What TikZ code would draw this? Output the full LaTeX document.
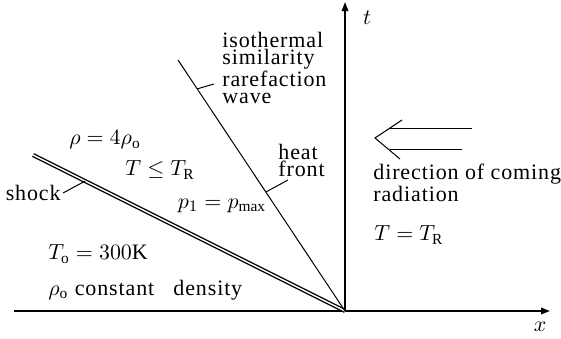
\documentclass[tikz,border=0pt]{standalone}
\usepackage{fontspec}
\setmainfont{Liberation Serif}
\usetikzlibrary{positioning, calc, arrows.meta}
\tikzset{
  > = {Triangle[length = 4.5pt, width = 3.2pt]},
  axis/.style = {->, line width = 0.9pt},
  front/.style = {line width = 0.5pt},
  shockline/.style = {double, double distance = 0.7pt, line width = 0.7pt},
  pointer/.style = {line width = 0.5pt},
  txt/.style = {inner sep = 1pt,
    font = \fontsize{11}{8.4}\selectfont\addfontfeature{LetterSpace = 4}},
  stack/.style = {txt, align = left},
  radiation/.style = {line width = 0.5pt}
}

\begin{document}
\begin{tikzpicture}[x = 0.5pt, y = -0.5pt]
\useasboundingbox (0,0) rectangle (561,338);

%% Axes
\coordinate (o) at (345,311);
\coordinate (xstart) at (14,311);
\coordinate (xend) at (550,311);
\coordinate (tend) at (345,2);
\draw [axis] (xstart) -- (xend);
\draw [axis] (o) -- (tend);
\node [txt] (xlab) at (540,327) {$x$};
\node [txt] (tlab) at (367,18) {$t$};

%% Fronts
\coordinate (shock0) at (33,155);
\coordinate (rare0) at (178,60);
\draw [shockline] (shock0) -- (o);
\draw [front] (rare0) -- (o);

%% Labels with pointers
\node [stack, anchor = north west] (rare) at (220,30)
  {isothermal\\similarity\\rarefaction\\wave};
\coordinate (rarept) at ($ (rare0) !0.115! (o) $);
\coordinate (rareend) at (214,84);
\draw [pointer] (rarept) -- (rareend);

\node [stack, anchor = north west] (heat) at (276,142) {heat\\front};
\coordinate (heatpt) at ($ (rare0) !0.526! (o) $);
\coordinate (heatend) at (288,180);
\draw [pointer] (heatpt) -- (heatend);

\node [txt, anchor = east] (shock) at (63,193) {shock};
\coordinate (shockpt) at ($ (shock0) !0.167! (o) $);
\draw [pointer] (shock.east) -- (shockpt);

%% Regions
\node [txt] (rho) at (105,140) {$\rho=4\rho_{\mathrm{o}}$};
\node [txt] (tle) at (160,170) {$T\leq T_{\mathrm{R}}$};
\node [txt] (pmax) at (222,206) {$p_1=p_{\max}$};
\node [txt, anchor = west] (tzero) at (46,254) {$T_{\mathrm{o}}=300$K};
\node [txt, anchor = west] (rhozero) at (46,290) {$\rho_{\mathrm{o}}$ constant\ \ \ density};
\node [txt, anchor = west] (teq) at (372,235) {$T=T_{\mathrm{R}}$};

%% Radiation
\node [stack, anchor = north west] (dir) at (371,162) {direction of coming\\radiation};
\coordinate (tip) at (375,138);
\coordinate (barbup) at (402,120);
\coordinate (barbdn) at (400,159);
\coordinate (up0) at (390,128);
\coordinate (up1) at (472,128);
\coordinate (dn0) at (390,149);
\coordinate (dn1) at (462,149);
\draw [radiation] (barbup) -- (tip) -- (barbdn);
\draw [radiation] (up0) -- (up1);
\draw [radiation] (dn0) -- (dn1);

\end{tikzpicture}
\end{document}
